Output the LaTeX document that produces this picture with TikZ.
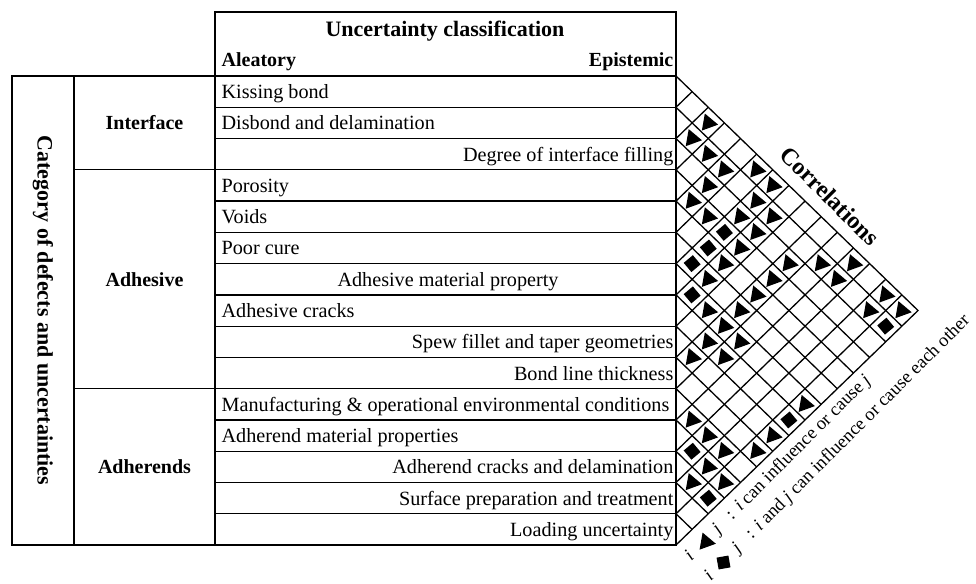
\documentclass[tikz,border=0pt]{standalone}
\usepackage{fontspec}
\setmainfont{Liberation Serif}
\usetikzlibrary{shapes.geometric}

\begin{document}
\begin{tikzpicture}[x=1pt, y=-1pt, line width=1.3pt,
    row/.style={font=\fontsize{20.2}{22}\selectfont, inner sep=0pt},
    grp/.style={font=\fontsize{20}{22}\selectfont\bfseries, inner sep=0pt},
    lgd/.style={font=\fontsize{18.5}{20}\selectfont, inner sep=0pt, rotate=45, anchor=base west},
    tri/.style={regular polygon, regular polygon sides=3, fill, draw=none, inner sep=0pt,
        minimum size=20pt, shape border rotate=-100},
    sqr/.style={rectangle, fill, draw=none, inner sep=0pt, minimum size=12pt, rotate=40}]
    \path [fill=white] (0,0) rectangle (976,580);

    \draw (215,12) rectangle (676,76);
    \path (445,31) node [grp, font=\fontsize{22}{24}\selectfont\bfseries] (title) {Uncertainty classification};
    \path (221,67) node [grp, anchor=base west] (alea) {Aleatory};
    \path (674,67) node [grp, anchor=base east] (epis) {Epistemic};

    \draw (12,76) rectangle (676,545);
    \draw (74,76) -- (74,545);
    \draw (215,76) -- (215,545);
    \foreach \k in {1,...,14}
        \draw (215,76+\k*31.27) -- (676,76+\k*31.27);
    \draw (74,76+3*31.27) -- (215,76+3*31.27);
    \draw (74,76+10*31.27) -- (215,76+10*31.27);

    \path (43,310.5) node [grp, font=\fontsize{22}{24}\selectfont\bfseries, rotate=-90] (cat) {Category of defects and uncertainties};
    \path (144.5,123) node [grp] (intf) {Interface};
    \path (144.5,279.5) node [grp] (adhv) {Adhesive};
    \path (144.5,467) node [grp] (adhd) {Adherends};

    \foreach \t/\x/\a [count=\n from 0] in {Kissing bond/221/base west,
        Disbond and delamination/221/base west,
        Degree of interface filling/674/base east,
        Porosity/221/base west, Voids/221/base west, Poor cure/221/base west,
        Adhesive material property/448/base,
        Adhesive cracks/221/base west,
        Spew fillet and taper geometries/674/base east,
        Bond line thickness/674/base east,
        Manufacturing \& operational environmental conditions/221/base west,
        Adherend material properties/221/base west,
        Adherend cracks and delamination/674/base east,
        Surface preparation and treatment/674/base east,
        Loading uncertainty/674/base east}
        \path (\x,98.6+\n*31.27) node [row, anchor=\a] (r\n) {\t};

    \draw (676,76) -- (918,310.5) -- (676,545);
    \foreach \k in {1,...,14} {
        \draw (676,76+\k*31.27) -- ++({16.13*(15-\k)},{15.635*(15-\k)});
        \draw (676,76+\k*31.27) -- ++({16.13*\k},{-15.635*\k});
    }

    \foreach \i/\j in {0/2,1/2,1/3,1/4,2/4,3/4,0/5,3/5,0/6,1/6,2/6,1/7,2/7,3/7,4/7,5/7,
        6/8,2/9,3/9,4/9,5/9,6/9,7/9,8/9,1/10,6/10,7/10,0/11,1/11,10/11,10/12,
        0/13,1/13,10/13,11/13,12/13,0/14,6/14,8/14,9/14,11/14}
        \path ({676+16.13*(\j-\i)},{91.635+15.635*(\i+\j)}) node [tri] (t\i-\j) {};
    \foreach \i/\j in {3/6,4/6,5/6,6/7,11/12,7/14,12/14,1/14}
        \path ({676+16.13*(\j-\i)},{91.635+15.635*(\i+\j)}) node [sqr] (s\i-\j) {};

    \path (830,196) node [font=\fontsize{24}{26}\selectfont\bfseries, rotate=-45] (corr) {Correlations};

    \path (690.8,562.2) node [lgd] (lg1) {\textit{i}\hspace{34pt}\textit{j}\hspace{14pt}:\hspace{7pt}\textit{i} can influence or cause \textit{j}};
    \path (706,542) node [tri] (lt) {};
    \path (710.4,581.6) node [lgd] (lg2) {\textit{i}\hspace{34pt}\textit{j}\hspace{14pt}:\hspace{7pt}\textit{i} and \textit{j} can influence or cause each other};
    \path (723.5,562.5) node [sqr, rotate=-30] (ls) {};
\end{tikzpicture}
\end{document}
